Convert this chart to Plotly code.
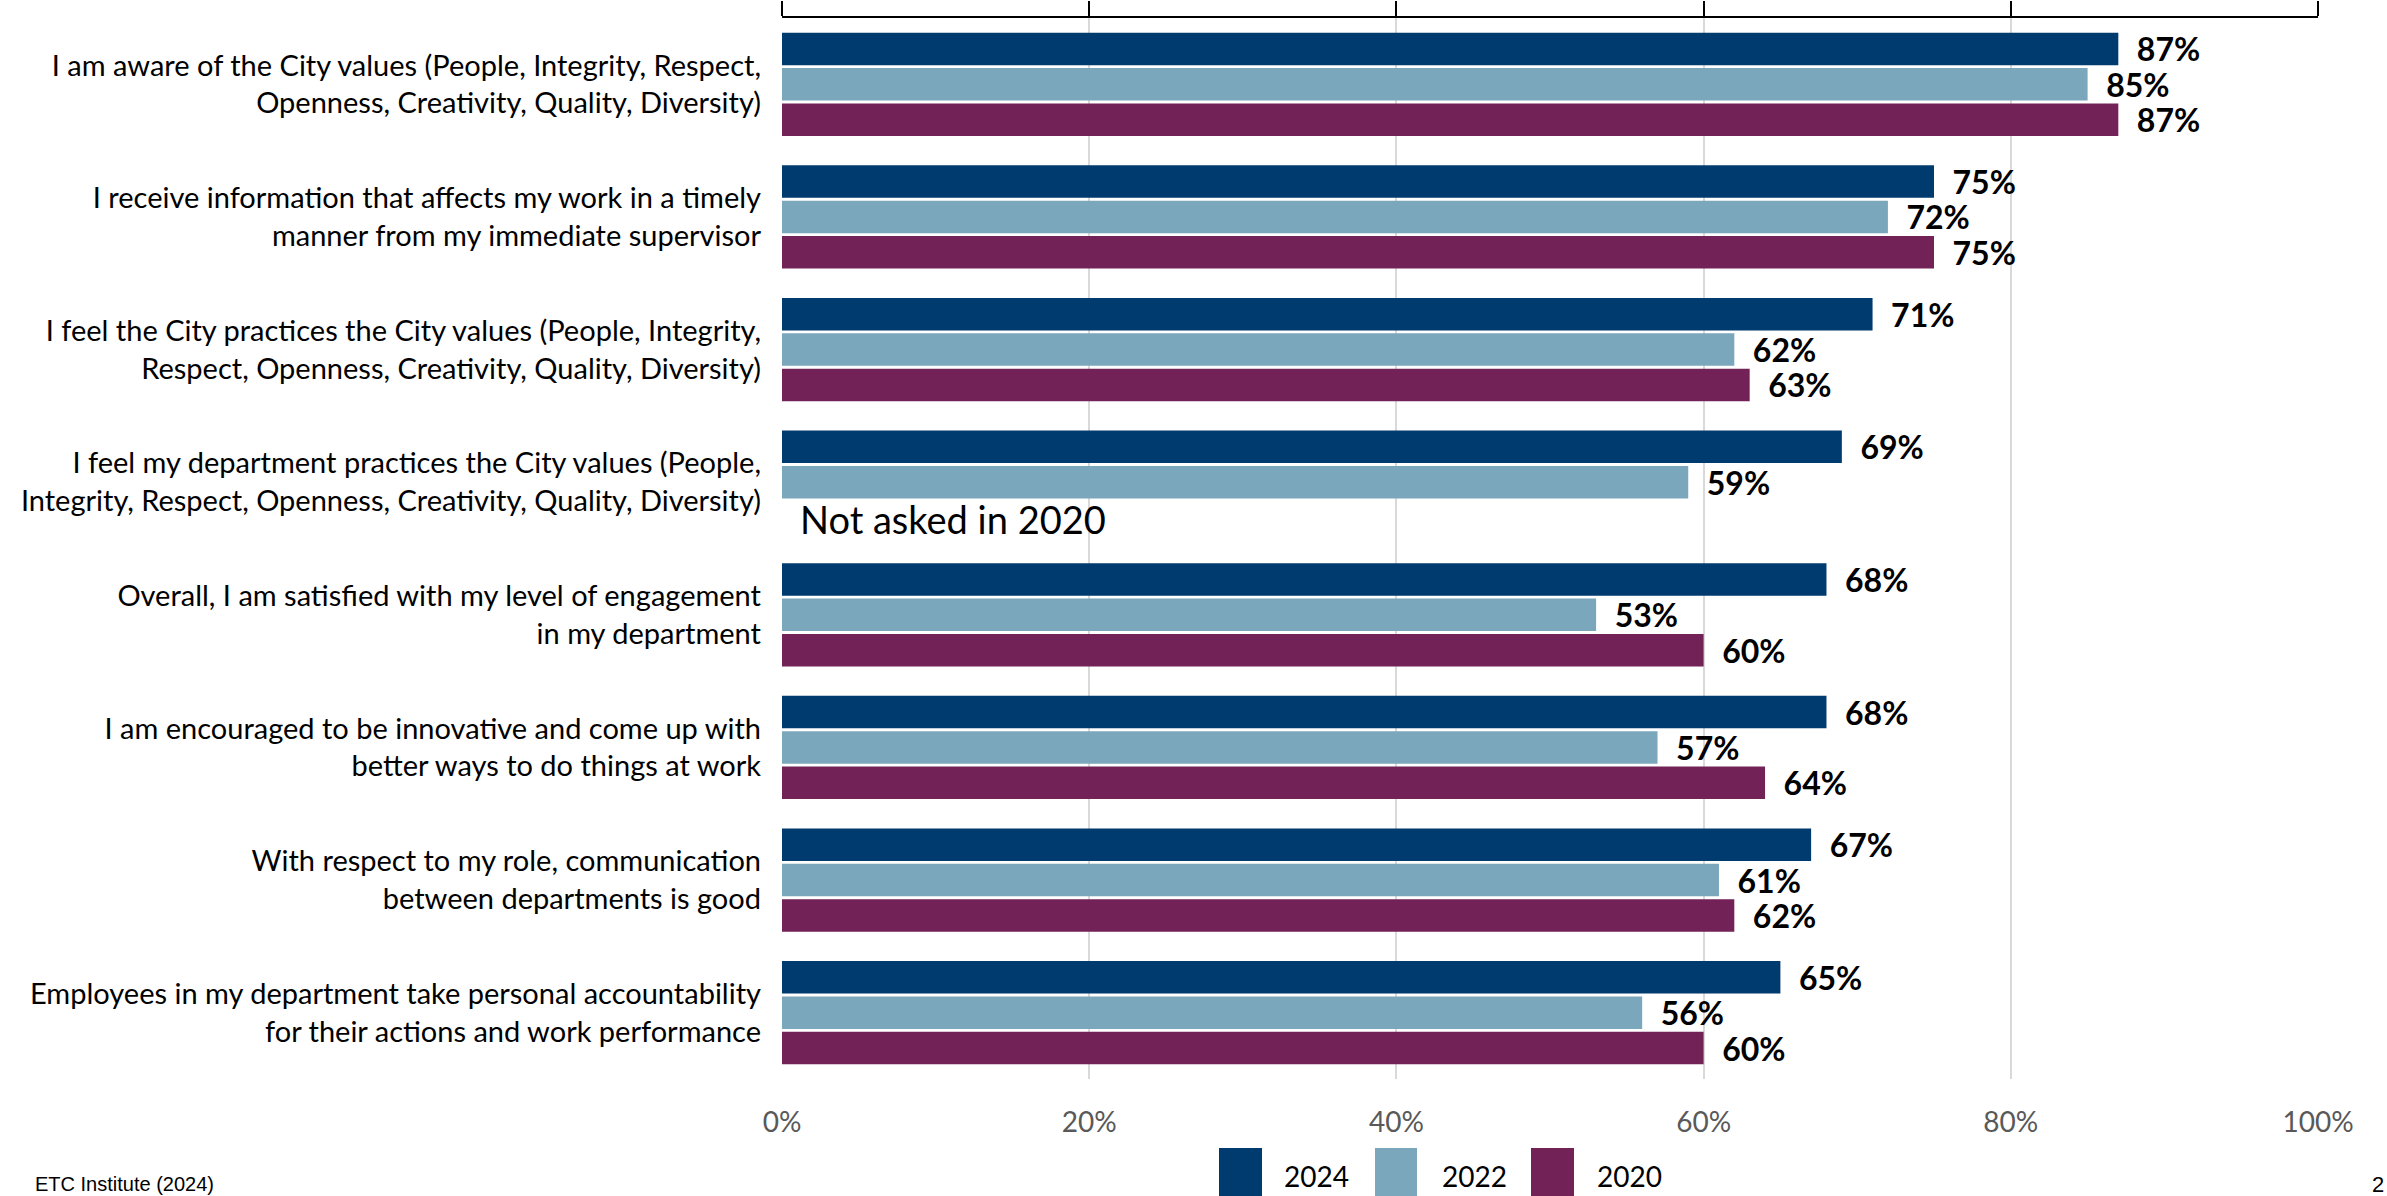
import plotly.graph_objects as go

# Survey statements (top to bottom)
statements = [
    "I am aware of the City values (People, Integrity, Respect,<br>Openness, Creativity, Quality, Diversity)",
    "I receive information that affects my work in a timely<br>manner from my immediate supervisor",
    "I feel the City practices the City values (People, Integrity,<br>Respect, Openness, Creativity, Quality, Diversity)",
    "I feel my department practices the City values (People,<br>Integrity, Respect, Openness, Creativity, Quality, Diversity)",
    "Overall, I am satisfied with my level of engagement<br>in my department",
    "I am encouraged to be innovative and come up with<br>better ways to do things at work",
    "With respect to my role, communication<br>between departments is good",
    "Employees in my department take personal accountability<br>for their actions and work performance",
]

years = ["2024", "2022", "2020"]
values_2024 = [87, 75, 71, 69, 68, 68, 67, 65]
values_2022 = [85, 72, 62, 59, 53, 57, 61, 56]
values_2020 = [87, 75, 63, None, 60, 64, 62, 60]
series = [values_2024, values_2022, values_2020]
colors = ["#003B70", "#7BA7BD", "#722257"]

x_ticks = [0, 20, 40, 60, 80, 100]
x_tick_labels = ["0%", "20%", "40%", "60%", "80%", "100%"]

not_asked_note = "Not asked in 2020"
source_note = "ETC Institute (2024)"
page_number = "2"

# Canvas and plot box (pixels)
W, H = 2387, 1196
L, R, T, B = 782, 2318, 18, 1079
FONT = "Lato"


def px_x(px):
    return (px - L) / (R - L)


def px_y(py):
    return (B - py) / (B - T)


fig = go.Figure()

for year, vals, col in zip(years, series, colors):
    fig.add_trace(go.Bar(
        y=statements,
        x=vals,
        name=year,
        orientation="h",
        marker=dict(color=col, line=dict(width=0)),
        text=["  %d%%" % v if v is not None else "" for v in vals],
        textposition="outside",
        textfont=dict(family=FONT, size=32, color="black", weight="bold"),
        constraintext="none",
        cliponaxis=False,
        showlegend=False,
    ))

# Invisible trace that carries the top axis
fig.add_trace(go.Scatter(x=[None], y=[statements[0]], xaxis="x2",
                         mode="markers", showlegend=False, hoverinfo="skip"))

fig.update_layout(
    width=W, height=H,
    margin=dict(l=L, r=W - R, t=T, b=H - B, pad=0, autoexpand=False),
    paper_bgcolor="white", plot_bgcolor="white",
    showlegend=False,
    barmode="group", bargap=0.2, bargroupgap=0.08,
    font=dict(family=FONT, color="black"),
    xaxis=dict(
        range=[0, 100], tickvals=x_ticks, ticktext=x_tick_labels,
        showgrid=True, gridcolor="#D9D9D9", gridwidth=2,
        zeroline=False, showline=False, ticks="", automargin=False,
        tickfont=dict(family=FONT, size=28, color="#595959"),
        ticklabelstandoff=24,
    ),
    xaxis2=dict(
        range=[0, 100], tickvals=x_ticks, overlaying="x", side="top",
        showticklabels=False, showgrid=False, zeroline=False, automargin=False,
        showline=True, linecolor="black", linewidth=2,
        ticks="outside", ticklen=15, tickwidth=2, tickcolor="black",
    ),
    yaxis=dict(
        autorange="reversed", showgrid=False, zeroline=False, showline=False,
        ticks="", automargin=False,
        tickfont=dict(family=FONT, size=29, color="black"),
        ticklabelstandoff=20,
    ),
)

# "Not asked" note in the empty 2020 slot
fig.add_annotation(x=0, y=statements[3], xref="x", yref="y",
                   text=not_asked_note, showarrow=False,
                   xanchor="left", yanchor="middle", xshift=16, yshift=-37,
                   font=dict(family=FONT, size=38, color="black"))

# Legend drawn as swatches + labels under the axis
legend_swatches = [(1219, 1262, 1282), (1375, 1417, 1440), (1531, 1574, 1595)]
for (x0, x1, tx), year, col in zip(legend_swatches, years, colors):
    fig.add_shape(type="rect", xref="paper", yref="paper",
                  x0=px_x(x0), x1=px_x(x1), y0=px_y(1148), y1=px_y(1200),
                  fillcolor=col, line=dict(width=0), layer="above")
    fig.add_annotation(x=px_x(tx), y=px_y(1176), xref="paper", yref="paper",
                       text=year, showarrow=False, xanchor="left", yanchor="middle",
                       font=dict(family=FONT, size=28, color="black"))

fig.add_annotation(x=px_x(33), y=px_y(1184), xref="paper", yref="paper",
                   text=source_note, showarrow=False, xanchor="left", yanchor="middle",
                   font=dict(family="Liberation Sans", size=20, color="black"))
fig.add_annotation(x=px_x(2370), y=px_y(1184), xref="paper", yref="paper",
                   text=page_number, showarrow=False, xanchor="left", yanchor="middle",
                   font=dict(family="Liberation Sans", size=22, color="black"))

fig.write_html("out.html")
